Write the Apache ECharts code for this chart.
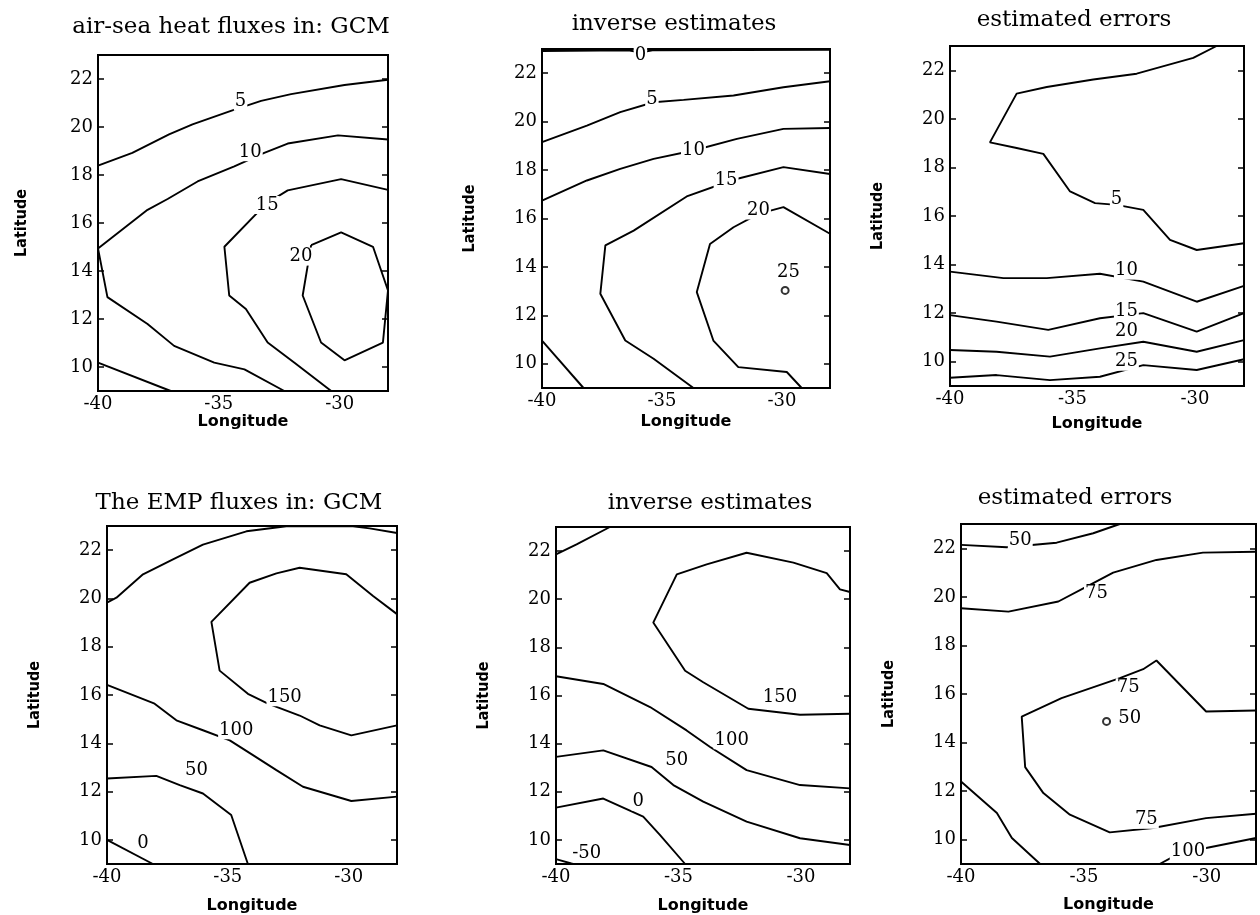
<!DOCTYPE html>
<html>
<head>
<meta charset="utf-8">
<script src="https://cdn.jsdelivr.net/npm/echarts@6/dist/echarts.min.js"></script>
<style>html,body{margin:0;padding:0;background:#fff}#c{width:1260px;height:915px}</style>
</head>
<body>
<div id="c"></div>
<script>
// ---- tick labels ----
const LON_TICKS = [-40, -35, -30];
const LAT_TICKS = [10, 12, 14, 16, 18, 20, 22];
const TITLES = ['air-sea heat fluxes in: GCM', 'inverse estimates', 'estimated errors',
                'The EMP fluxes in: GCM', 'inverse estimates', 'estimated errors'];

// ---- panel 1: air-sea heat fluxes, GCM ----
const P1_LOW = [[-40,10.18],[-36.99,9.0]];
const P1_5  = [[-40,18.39],[-38.58,18.92],[-37.06,19.69],[-36.09,20.11],[-34.50,20.67],[-33.25,21.09],[-32.01,21.37],[-29.80,21.75],[-28,21.97]];
const P1_10 = [[-28,19.48],[-30.07,19.65],[-32.15,19.31],[-33.12,18.92],[-34.36,18.36],[-35.88,17.73],[-37.12,17.0],[-37.95,16.55],[-40,14.94],[-39.61,12.91],[-37.95,11.79],[-36.85,10.88],[-35.19,10.18],[-33.94,9.90],[-32.29,9.0]];
const P1_15 = [[-28,17.38],[-29.94,17.83],[-32.15,17.36],[-33.05,16.80],[-34.77,15.01],[-34.57,12.98],[-33.88,12.42],[-32.98,11.02],[-31.87,10.18],[-30.35,9.0]];
const P1_20 = [[-31.18,15.08],[-29.94,15.61],[-28.62,15.01],[-28,13.19],[-28.21,11.02],[-29.80,10.28],[-30.77,11.02],[-31.53,12.98],[-31.18,15.08]];
const P1_LABELS = [[-34.1,21.05,'5'],[-33.7,18.95,'10'],[-33.0,16.75,'15'],[-31.6,14.6,'20']];
const P1_MARKS = [];

// ---- panel 2: heat fluxes, inverse estimates ----
const P2_0  = [[-40,22.92],[-36.4,22.95],[-35.9,22.85],[-35.4,22.95],[-28,22.97]];
const P2_5  = [[-40,19.15],[-38.13,19.84],[-36.74,20.39],[-35.35,20.80],[-34.10,20.90],[-32.02,21.08],[-29.94,21.42],[-28,21.67]];
const P2_10 = [[-40,16.74],[-38.13,17.57],[-36.74,18.05],[-35.35,18.46],[-33.69,18.81],[-31.88,19.29],[-29.94,19.70],[-28,19.74]];
const P2_15 = [[-28,17.84],[-29.94,18.12],[-32.02,17.60],[-33.97,16.91],[-36.18,15.50],[-37.36,14.89],[-37.57,12.89],[-36.53,10.96],[-35.35,10.21],[-33.69,9.0]];
const P2_20 = [[-28,15.37],[-29.94,16.47],[-30.98,16.19],[-32.02,15.64],[-33.0,14.95],[-33.55,12.96],[-32.86,10.96],[-31.82,9.86],[-29.80,9.66],[-29.18,9.0]];
const P2_LOW = [[-40,10.96],[-38.27,9.0]];
const P2_LABELS = [[-35.9,22.72,'0'],[-35.42,20.94,'5'],[-33.69,18.83,'10'],[-32.33,17.57,'15'],[-30.98,16.33,'20'],[-29.73,13.78,'25']];
const P2_MARKS = [[-29.87,13.03]];

// ---- panel 3: heat fluxes, estimated errors ----
const P3_5  = [[-29.12,23],[-30.07,22.51],[-32.38,21.86],[-34.15,21.62],[-36.05,21.31],[-37.28,21.04],[-38.37,19.03],[-37.28,18.80],[-36.19,18.56],[-35.10,17.01],[-34.08,16.53],[-33.20,16.46],[-32.11,16.25],[-31.02,15.02],[-29.93,14.60],[-28,14.88]];
const P3_10 = [[-40,13.71],[-37.82,13.44],[-36.05,13.44],[-33.88,13.62],[-32.11,13.30],[-29.93,12.47],[-28,13.12]];
const P3_15 = [[-40,11.92],[-38.10,11.65],[-35.99,11.31],[-33.88,11.79],[-32.11,12.0],[-29.93,11.24],[-28,12.0]];
const P3_20 = [[-40,10.48],[-38.10,10.41],[-35.92,10.21],[-33.88,10.55],[-32.11,10.82],[-29.93,10.41],[-28,10.89]];
const P3_25 = [[-40,9.34],[-38.10,9.45],[-35.92,9.24],[-33.88,9.38],[-32.11,9.86],[-29.93,9.66],[-28,10.10]];
const P3_LABELS = [[-33.2,16.7,'5'],[-32.8,13.75,'10'],[-32.8,12.06,'15'],[-32.8,11.24,'20'],[-32.8,10.0,'25']];
const P3_MARKS = [];

// ---- panel 4: EMP fluxes, GCM ----
const P4_TOP = [[-40,19.83],[-39.61,20.03],[-38.51,21.0],[-37.27,21.62],[-36.03,22.23],[-34.23,22.78],[-32.58,22.99],[-29.82,22.99],[-29.13,22.9],[-28,22.71]];
const P4_150 = [[-28,19.35],[-28.99,20.10],[-30.10,21.0],[-32.03,21.27],[-32.99,21.04],[-34.10,20.65],[-35.68,19.03],[-35.34,17.01],[-34.17,16.05],[-33.34,15.64],[-32.03,15.15],[-31.20,14.74],[-29.89,14.33],[-28,14.74]];
const P4_100 = [[-40,16.42],[-38.03,15.64],[-37.13,14.95],[-36.03,14.54],[-34.92,14.12],[-33.96,13.51],[-32.99,12.89],[-31.89,12.20],[-29.89,11.61],[-28,11.79]];
const P4_50  = [[-40,12.54],[-37.96,12.65],[-36.99,12.27],[-36.03,11.92],[-34.86,11.03],[-34.17,9.0]];
const P4_0   = [[-40,10.0],[-38.10,9.0]];
const P4_LABELS = [[-32.65,15.91,'150'],[-34.65,14.54,'100'],[-36.30,12.89,'50'],[-38.51,9.86,'0']];
const P4_MARKS = [];

// ---- panel 5: EMP fluxes, inverse estimates ----
const P5_TOP = [[-40,21.86],[-39.16,22.28],[-37.80,23]];
const P5_150 = [[-28,20.3],[-28.41,20.41],[-28.95,21.08],[-30.31,21.52],[-32.22,21.93],[-33.85,21.45],[-35.07,21.03],[-36.03,19.03],[-34.73,17.03],[-33.99,16.55],[-32.15,15.45],[-30.04,15.20],[-28,15.24]];
const P5_100 = [[-40,16.80],[-38.07,16.48],[-36.16,15.52],[-34.67,14.55],[-33.71,13.86],[-32.22,12.90],[-30.04,12.28],[-28,12.14]];
const P5_50  = [[-40,13.45],[-38.07,13.72],[-36.10,13.03],[-35.21,12.28],[-33.99,11.59],[-32.22,10.76],[-30.04,10.07],[-28,9.79]];
const P5_0   = [[-40,11.34],[-38.07,11.72],[-36.44,10.97],[-35.76,10.21],[-34.73,9.0]];
const P5_M50 = [[-40,9.2],[-39.3,9.0]];
const P5_LABELS = [[-30.86,15.93,'150'],[-32.83,14.14,'100'],[-35.07,13.31,'50'],[-36.64,11.59,'0'],[-38.75,9.45,'-50']];
const P5_MARKS = [];

// ---- panel 6: EMP fluxes, estimated errors ----
const P6_50   = [[-40,22.14],[-38.14,22.04],[-36.11,22.23],[-34.62,22.62],[-33.54,23]];
const P6_75A  = [[-40,19.53],[-38.07,19.39],[-36.04,19.81],[-34.89,20.42],[-33.81,21.0],[-32.05,21.52],[-30.16,21.82],[-28,21.86]];
const P6_75B  = [[-28,15.32],[-30.03,15.28],[-32.05,17.38],[-32.59,17.02],[-33.54,16.65],[-35.91,15.83],[-37.53,15.07],[-37.39,12.99],[-36.65,11.92],[-35.57,11.03],[-33.95,10.30],[-32.19,10.48],[-30.03,10.89],[-28,11.07]];
const P6_100A = [[-40,12.40],[-38.54,11.10],[-37.93,10.07],[-36.78,9.0]];
const P6_100B = [[-31.92,9.0],[-31.38,9.29],[-30.03,9.66],[-28,10.07]];
const P6_LABELS = [[-37.59,22.34,'50'],[-34.49,20.15,'75'],[-33.20,16.28,'75'],[-33.14,15.0,'50'],[-32.46,10.82,'75'],[-30.77,9.52,'100']];
const P6_MARKS = [[-34.08,14.87]];

// ---- layout (pixels) ----
const GRIDS = [
  {left: 98,  top: 55,  width: 290, height: 336},
  {left: 542, top: 49,  width: 288, height: 339},
  {left: 950, top: 46,  width: 294, height: 340},
  {left: 107, top: 526, width: 290, height: 340},
  {left: 556, top: 527, width: 294, height: 339},
  {left: 961, top: 524, width: 295, height: 340}
];
const TITLE_POS = [[231,27],[674,24],[1074,20],[239,503],[710,503],[1075,498]];
const XNAME_GAP = [23, 26, 30, 34, 34, 33];
const YNAME_GAP = [68, 64, 64, 64, 64, 64];
const PANELS = [
  {lines: [P1_LOW, P1_5, P1_10, P1_15, P1_20], labels: P1_LABELS, marks: P1_MARKS},
  {lines: [P2_0, P2_5, P2_10, P2_15, P2_20, P2_LOW], labels: P2_LABELS, marks: P2_MARKS},
  {lines: [P3_5, P3_10, P3_15, P3_20, P3_25], labels: P3_LABELS, marks: P3_MARKS},
  {lines: [P4_TOP, P4_150, P4_100, P4_50, P4_0], labels: P4_LABELS, marks: P4_MARKS},
  {lines: [P5_TOP, P5_150, P5_100, P5_50, P5_0, P5_M50], labels: P5_LABELS, marks: P5_MARKS},
  {lines: [P6_50, P6_75A, P6_75B, P6_100A, P6_100B], labels: P6_LABELS, marks: P6_MARKS}
];

const SERIF = '"DejaVu Serif", "Liberation Serif", serif';
const grid = [], xAxis = [], yAxis = [], series = [], graphic = [];

GRIDS.forEach((g, i) => {
  grid.push(Object.assign({show: true, borderColor: '#000', borderWidth: 2, backgroundColor: 'transparent'}, g));
  xAxis.push({
    gridIndex: i, type: 'value', min: -40, max: -28, interval: 5,
    axisLine: {show: true, lineStyle: {color: '#000', width: 2}},
    axisTick: {show: false}, splitLine: {show: false},
    axisLabel: {showMaxLabel: false, color: '#000', fontFamily: SERIF, fontSize: 18, margin: 4},
    name: 'Longitude', nameLocation: 'middle', nameGap: XNAME_GAP[i],
    nameTextStyle: {color: '#000', fontFamily: '"DejaVu Sans", sans-serif', fontWeight: 'bold', fontSize: 16}
  });
  yAxis.push({
    gridIndex: i, type: 'value', min: 9, max: 23, position: 'left',
    axisLine: {show: true, lineStyle: {color: '#000', width: 2}},
    axisTick: {show: true, inside: true, length: 6, customValues: LAT_TICKS, lineStyle: {color: '#000', width: 1.5}},
    splitLine: {show: false},
    axisLabel: {customValues: LAT_TICKS, color: '#000', fontFamily: SERIF, fontSize: 18, margin: 5},
    name: 'Latitude', nameLocation: 'middle', nameRotate: 90, nameGap: YNAME_GAP[i],
    nameTextStyle: {color: '#000', fontFamily: '"DejaVu Sans Condensed", "DejaVu Sans", sans-serif', fontWeight: 'bold', fontSize: 16}
  });
  yAxis.push({
    gridIndex: i, type: 'value', min: 9, max: 23, position: 'right',
    axisLine: {show: true, lineStyle: {color: '#000', width: 2}},
    axisTick: {show: true, inside: true, length: 6, customValues: LAT_TICKS, lineStyle: {color: '#000', width: 1.5}},
    splitLine: {show: false}, axisLabel: {show: false}
  });
  const p = PANELS[i];
  p.lines.forEach(line => {
    series.push({
      type: 'line', xAxisIndex: i, yAxisIndex: 2 * i, data: line,
      showSymbol: false, symbol: 'none', smooth: false, silent: true, animation: false,
      lineStyle: {color: '#000', width: 1.9}, z: 2
    });
  });
  series.push({
    type: 'scatter', xAxisIndex: i, yAxisIndex: 2 * i, data: p.labels,
    symbolSize: 0, itemStyle: {color: '#000', opacity: 1}, animation: false, silent: true, z: 5,
    label: {show: true, position: 'inside', formatter: d => d.data[2], color: '#000', opacity: 1,
            fontFamily: SERIF, fontSize: 18, backgroundColor: '#fff', padding: [0, 1]}
  });
  if (p.marks.length) {
    series.push({
      type: 'scatter', xAxisIndex: i, yAxisIndex: 2 * i, data: p.marks,
      symbol: 'emptyCircle', symbolSize: 7, itemStyle: {color: '#000', borderColor: '#000', borderWidth: 1.4},
      animation: false, silent: true, z: 6
    });
  }
  graphic.push({
    type: 'text', x: TITLE_POS[i][0], y: TITLE_POS[i][1],
    style: {text: TITLES[i], fill: '#000', font: '23px "DejaVu Serif", serif', align: 'center', verticalAlign: 'middle'}
  });
});

const chart = echarts.init(document.getElementById('c'), null, {renderer: 'canvas'});
chart.setOption({backgroundColor: '#fff', animation: false, grid, xAxis, yAxis, series, graphic});
</script>
</body>
</html>
